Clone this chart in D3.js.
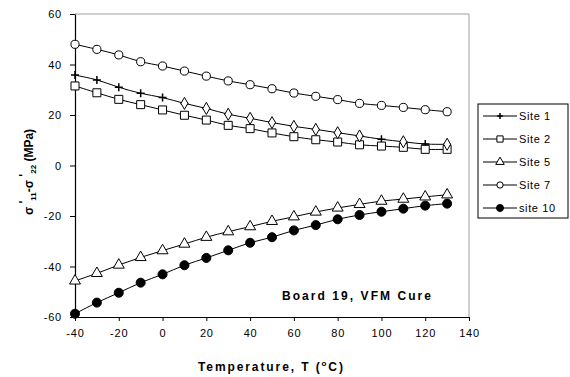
<!DOCTYPE html>
<html>
<head>
<meta charset="utf-8">
<script src="https://cdn.jsdelivr.net/npm/d3@7"></script>
<style>
  body { margin: 0; background: #fff; }
  text { font-family: "Liberation Sans", Arial, sans-serif; fill: #000; }
</style>
</head>
<body>
<svg id="chart" width="570" height="377"></svg>
<script>
// temperatures (deg C)
const temps = [-40, -30, -20, -10, 0, 10, 20, 30, 40, 50, 60, 70, 80, 90, 100, 110, 120, 130];

// stress difference per site (MPa)
const site1 = [35.8, 33.9, 31.0, 28.6, 26.9, 24.6, 22.6, 20.3, 18.7, 17.0, 15.5, 14.3, 13.0, 11.7, 10.4, 9.4, 8.5, 8.4];
const site2 = [31.5, 28.8, 26.2, 24.1, 22.0, 19.9, 18.0, 15.9, 14.6, 12.9, 11.4, 10.2, 9.3, 8.2, 7.7, 7.2, 6.4, 6.4];
const site5 = [-45.7, -42.7, -39.4, -36.4, -33.7, -31.1, -28.4, -26.2, -24.2, -22.1, -20.3, -18.4, -16.8, -15.4, -14.1, -13.3, -12.4, -11.6];
const site7 = [48.0, 46.0, 43.8, 41.1, 39.4, 37.4, 35.4, 33.5, 32.0, 30.4, 28.7, 27.4, 26.1, 24.6, 23.8, 23.0, 22.1, 21.3];
const site10 = [-58.7, -54.3, -50.4, -46.4, -43.1, -39.5, -36.6, -33.6, -30.6, -28.4, -25.7, -23.6, -21.3, -19.6, -18.3, -17.1, -15.9, -15.1];

// extra unlabelled diamond series lying on top of Site 1
const diamondTemps = [10, 20, 30, 40, 50, 60, 70, 80, 90, 110, 130];
const diamondVals = [24.6, 22.6, 20.3, 18.7, 17.0, 15.5, 14.3, 13.0, 11.7, 9.4, 8.4];

const xTicks = [-40, -20, 0, 20, 40, 60, 80, 100, 120, 140];
const yTicks = [-60, -40, -20, 0, 20, 40, 60];

const svg = d3.select("#chart");
const x = d3.scaleLinear().domain([-40, 140]).range([75, 469]);
const y = d3.scaleLinear().domain([-60, 60]).range([317, 14]);

// plot frame: grey top/right, black axes
svg.append("line").attr("x1", x(-40)).attr("x2", x(140)).attr("y1", y(60)).attr("y2", y(60))
  .attr("stroke", "#a0a0a0");
svg.append("line").attr("x1", x(140)).attr("x2", x(140)).attr("y1", y(60)).attr("y2", y(-60))
  .attr("stroke", "#a0a0a0");

const xAxis = svg.append("g").attr("transform", `translate(0,${y(-60)})`)
  .call(d3.axisBottom(x).tickValues(xTicks).tickFormat(d => String(d))
    .tickSize(4).tickSizeOuter(0).tickPadding(8));
const yAxis = svg.append("g").attr("transform", `translate(${x(-40)},0)`)
  .call(d3.axisLeft(y).tickValues(yTicks).tickFormat(d => String(d))
    .tickSize(5).tickSizeOuter(0).tickPadding(8));
[xAxis, yAxis].forEach(a => {
  a.select(".domain").attr("stroke", "#000").attr("stroke-width", 1.2);
  a.selectAll(".tick line").attr("stroke", "#000");
  a.selectAll("text").attr("font-size", 11).attr("letter-spacing", 0.8)
    .attr("font-family", "Liberation Sans, Arial, sans-serif");
});

const line = d3.line().curve(d3.curveCatmullRom);
const plus = "M0,-4V4M-4,0H4";

const series = [
  { name: "Site 1", vals: site1, sym: "plus", fill: "none" },
  { name: "Site 2", vals: site2, sym: d3.symbolSquare, size: 64, fill: "#fff" },
  { name: "Site 5", vals: site5, sym: d3.symbolTriangle, size: 52, fill: "#fff" },
  { name: "Site 7", vals: site7, sym: d3.symbolCircle, size: 52, fill: "#fff" },
  { name: "site 10", vals: site10, sym: d3.symbolCircle, size: 64, fill: "#000" }
];

function markerPath(s, scale) {
  if (s.sym === "plus") return scale < 1 ? "M0,-3V3M-3,0H3" : plus;
  return d3.symbol(s.sym, s.size * scale)();
}

series.forEach(s => {
  const pts = temps.map((t, i) => [x(t), y(s.vals[i])]);
  svg.append("path").attr("d", line(pts)).attr("fill", "none").attr("stroke", "#000").attr("stroke-width", 1);
  svg.append("g").selectAll("path").data(pts).join("path")
    .attr("transform", d => `translate(${d[0]},${d[1]})`)
    .attr("d", markerPath(s, 1))
    .attr("fill", s.fill).attr("stroke", "#000").attr("stroke-width", s.sym === "plus" ? 1.5 : 1);
});

// diamonds over Site 1
const dPts = diamondTemps.map((t, i) => [x(t), y(diamondVals[i])]);
svg.append("g").selectAll("path").data(dPts).join("path")
  .attr("transform", d => `translate(${d[0]},${d[1]})`)
  .attr("d", d3.symbol(d3.symbolDiamond, 42)())
  .attr("fill", "#fff").attr("stroke", "#000").attr("stroke-width", 1);

// annotation
svg.append("text").attr("x", 282).attr("y", 300).attr("font-size", 12).attr("font-weight", "bold")
  .attr("textLength", 149).attr("lengthAdjust", "spacing").text("Board 19, VFM Cure");

// x title
const xt = svg.append("text").attr("x", 198).attr("y", 371).attr("font-size", 12).attr("font-weight", "bold")
  .attr("letter-spacing", 1.9);
xt.append("tspan").text("Temperature, T (");
xt.append("tspan").attr("font-size", 8).attr("dy", -5).text("o");
xt.append("tspan").attr("dy", 5).text("C)");

// y title
const yt = svg.append("text").attr("transform", "translate(33,172) rotate(-90)")
  .attr("text-anchor", "middle").attr("font-size", 12).attr("font-weight", "bold");
yt.append("tspan").text("σ");
yt.append("tspan").attr("dy", -5).text(" '");
yt.append("tspan").attr("dy", 8).attr("font-size", 8).text("11");
yt.append("tspan").attr("dy", -3).text("-σ");
yt.append("tspan").attr("dy", -5).text(" '");
yt.append("tspan").attr("dy", 8).attr("font-size", 8).text("22");
yt.append("tspan").attr("dy", -3).text(" (MPa)");

// legend
const lg = svg.append("g").attr("transform", "translate(478,104)");
lg.append("rect").attr("width", 90).attr("height", 114).attr("fill", "#fff").attr("stroke", "#000");
series.forEach((s, i) => {
  const cy = 12 + i * 23;
  lg.append("line").attr("x1", 5).attr("x2", 39).attr("y1", cy).attr("y2", cy).attr("stroke", "#000");
  lg.append("path").attr("transform", `translate(22,${cy})`).attr("d", markerPath(s, 0.6))
    .attr("fill", s.fill).attr("stroke", "#000").attr("stroke-width", s.sym === "plus" ? 1.5 : 1);
  lg.append("text").attr("x", 41).attr("y", cy + 4).attr("font-size", 11).attr("letter-spacing", 0.6).text(s.name);
});
</script>
</body>
</html>
